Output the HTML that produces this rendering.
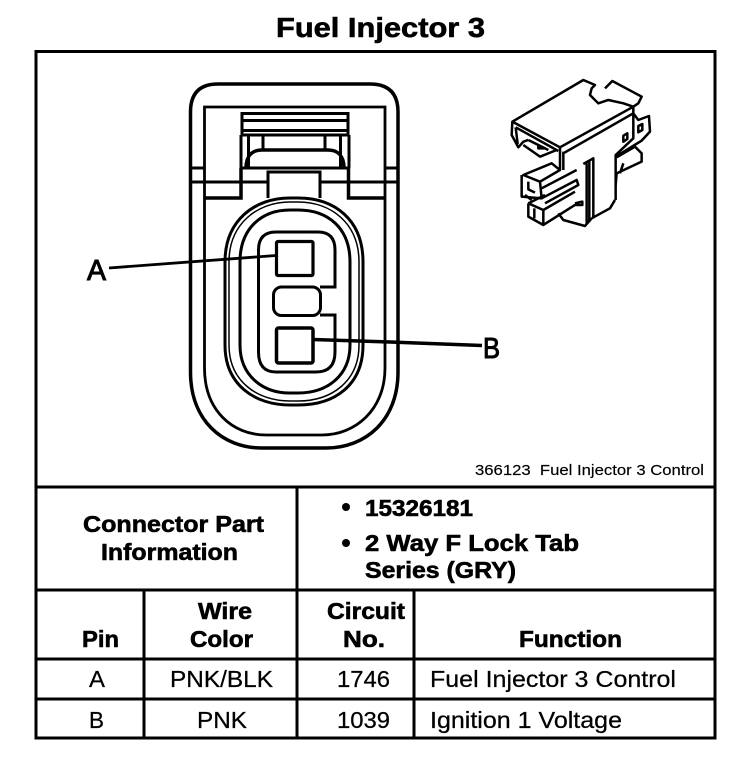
<!DOCTYPE html>
<html>
<head>
<meta charset="utf-8">
<style>
html,body{margin:0;padding:0;background:#fff;width:752px;height:774px;overflow:hidden}
svg{display:block}
text{font-family:"Liberation Sans",sans-serif;fill:#000}
.b{font-weight:bold;font-size:23.5px;stroke:#000;stroke-width:.6px}
.r{font-size:23.5px;stroke:#000;stroke-width:.25px}
</style>
</head>
<body>
<svg width="752" height="774" viewBox="0 0 752 774" xmlns="http://www.w3.org/2000/svg">
<rect width="752" height="774" fill="#fff"/>
<text class="b" x="276" y="37" style="font-size:28px" textLength="209" lengthAdjust="spacingAndGlyphs">Fuel Injector 3</text>

<!-- table frame -->
<g fill="none" stroke="#000" stroke-width="3">
<rect x="36" y="51.500" width="679" height="686.500"/>
<path d="M36 487H715M36 590H715M36 659H715M36 699H715"/>
<path d="M297 487V738M144 590V738M414 590V738"/>
</g>

<!-- main connector -->
<g fill="none" stroke="#000" stroke-width="3">
<path stroke-width="3.500" d="M190.500 112Q190.500 84 218 84H370Q398 84 398 112V372C398 420 366 448 326 448H262C222 448 190.500 420 190.500 372Z"/>
<path stroke-width="2.800" d="M204.500 107H385V368C385 410 355 435 322 435H266C232 435 204.500 410 204.500 368Z"/>
<path d="M190 168H204M385 168H398M190 182H240M349 182H398M320 182H349M240 182H268"/>
<path stroke-width="3.500" d="M204 198H241V168M385 198H348.500V168"/>
<path d="M242 113.500H348V135H242Z"/>
<path d="M242 120.500H348M242 130.500H348"/>
<path d="M241 135V168M349 135V168M248.500 135V168M340.500 135V168M263 135V150M325 135V150"/>
<path stroke-width="3.500" d="M246 168C246 156 252 150 262 150H328C338 150 344 156 344 168"/>
<path d="M240 168H349"/>
<path d="M268 198V172H320V198"/>
<!-- seal -->
<path stroke-width="3" d="M225 262C225 220 255 198 290 198H298C335 198 363 220 363 262V345C363 385 335 405 298 405H290C255 405 225 385 225 345Z"/>
<path stroke-width="1.500" d="M229 262C229 224 257 202 290 202H298C332 202 359 224 359 262V345C359 381 332 401 298 401H290C257 401 229 381 229 345Z"/>
<path d="M240 262C240 228 262 210 290 210H298C328 210 350 228 350 262V345C350 375 328 393 298 393H290C262 393 240 375 240 345Z"/>
<path d="M320 287H335V250Q335 232 318 232H276Q258.500 232 258.500 250V352Q258.500 372 276 372H316Q335 372 335 352V315H320"/>
<rect x="273.500" y="287" width="47" height="28.500" rx="8"/>
<rect stroke-width="3.200" x="276.500" y="241.500" width="36.500" height="34" rx="1.500"/>
<rect stroke-width="3.500" x="276.500" y="328" width="36.500" height="35" rx="2"/>
<path stroke-width="2.800" d="M109 268L276 255.500"/>
<path stroke-width="3.500" d="M313 339.500L390 342L482 345.500"/>
</g>
<text class="r" x="87" y="280" style="font-size:29px;stroke-width:1px" textLength="19" lengthAdjust="spacingAndGlyphs">A</text>
<text class="r" x="483" y="358" style="font-size:29px;stroke-width:1px" textLength="17" lengthAdjust="spacingAndGlyphs">B</text>

<!-- perspective view -->
<g transform="translate(495 70) scale(.3333)" fill="none" stroke="#000" stroke-width="7.500" stroke-linejoin="round">
<path d="M52 155L265 30L300 45L290 55L285 75L310 100L340 90L385 100L415 110L195 232L52 155Z"/>
<path d="M330 55L352 33L440 80L430 100L415 110"/>
<path d="M52 155L50 195L70 232L85 215L100 210M62 172L190 243M62 172L68 222"/>
<path d="M85 225L135 260L185 240M130 225V235H150M100 210L160 240"/>
<path d="M195 232L195 300M205 245V300"/>
<path d="M205 250L415 130V110"/>
<path d="M415 130L430 150L462 138L465 185L440 212L362 260M415 130V205L362 255V390"/>
<path d="M385 197L397 190V207L385 215ZM430 168L442 162V180L430 187Z"/>
<path d="M265 282L295 265V445M275 280V462M283 275V455"/>
<path d="M365 262L420 230L440 250V275L365 310M385 280L375 310M362 345L365 310"/>
<path d="M360 390L345 415L290 445"/>
<path d="M85 315L170 280L195 300L135 335ZM80 315V380L140 385L135 335"/>
<path d="M140 385L245 330L250 345L150 400M140 355L245 300"/>
<path d="M100 335V358L120 368M90 375L110 390"/>
<path d="M100 400V440L145 465V420L100 400M145 420L240 365M100 400L150 375"/>
<path d="M145 465L240 405H262V395L240 400M118 415V445"/>
<path d="M190 430L205 450L270 468L290 445"/>
</g>

<text x="475" y="475" style="font-size:14.500px;stroke:#000;stroke-width:.15px" textLength="229" lengthAdjust="spacingAndGlyphs" xml:space="preserve">366123  Fuel Injector 3 Control</text>

<!-- table text -->
<text class="b" x="83" y="532" textLength="181" lengthAdjust="spacingAndGlyphs">Connector Part</text>
<text class="b" x="101" y="560" textLength="137" lengthAdjust="spacingAndGlyphs">Information</text>
<circle cx="346" cy="507" r="4"/>
<circle cx="346" cy="543" r="4"/>
<text class="b" x="365" y="516" textLength="108" lengthAdjust="spacingAndGlyphs">15326181</text>
<text class="b" x="365" y="551" textLength="214" lengthAdjust="spacingAndGlyphs">2 Way F Lock Tab</text>
<text class="b" x="365" y="578" textLength="151" lengthAdjust="spacingAndGlyphs">Series (GRY)</text>
<text class="b" x="82" y="647" textLength="37" lengthAdjust="spacingAndGlyphs">Pin</text>
<text class="b" x="198" y="619" textLength="54" lengthAdjust="spacingAndGlyphs">Wire</text>
<text class="b" x="190" y="647" textLength="63" lengthAdjust="spacingAndGlyphs">Color</text>
<text class="b" x="327" y="619" textLength="78" lengthAdjust="spacingAndGlyphs">Circuit</text>
<text class="b" x="343" y="647" textLength="42" lengthAdjust="spacingAndGlyphs">No.</text>
<text class="b" x="519" y="647" textLength="103" lengthAdjust="spacingAndGlyphs">Function</text>
<text class="r" x="89" y="687" textLength="16" lengthAdjust="spacingAndGlyphs">A</text>
<text class="r" x="170" y="687" textLength="103" lengthAdjust="spacingAndGlyphs">PNK/BLK</text>
<text class="r" x="337" y="687" textLength="53" lengthAdjust="spacingAndGlyphs">1746</text>
<text class="r" x="430" y="687" textLength="246" lengthAdjust="spacingAndGlyphs">Fuel Injector 3 Control</text>
<text class="r" x="89" y="728" textLength="15" lengthAdjust="spacingAndGlyphs">B</text>
<text class="r" x="197" y="728" textLength="50" lengthAdjust="spacingAndGlyphs">PNK</text>
<text class="r" x="337" y="728" textLength="53" lengthAdjust="spacingAndGlyphs">1039</text>
<text class="r" x="430" y="728" textLength="192" lengthAdjust="spacingAndGlyphs">Ignition 1 Voltage</text>
</svg>
</body>
</html>
